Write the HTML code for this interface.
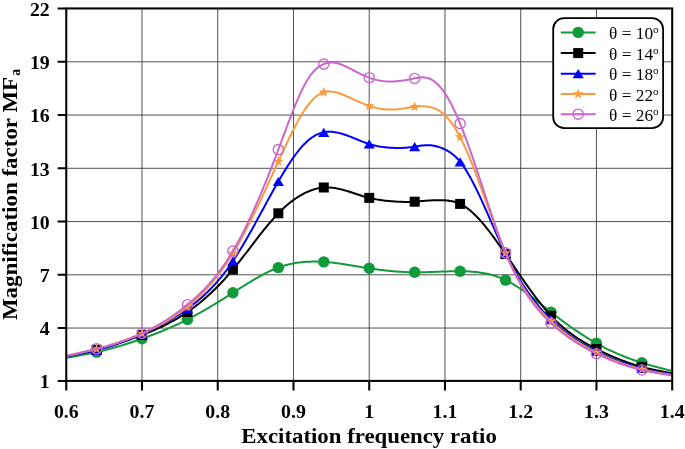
<!DOCTYPE html>
<html><head><meta charset="utf-8"><title>chart</title>
<style>html,body{margin:0;padding:0;background:#fff}body{width:685px;height:449px;overflow:hidden;font-family:"Liberation Sans",sans-serif}</style>
</head><body>
<svg width="685" height="449" viewBox="0 0 685 449" style="display:block;will-change:transform;transform:translateZ(0)">
<path d="M141.99 8.45 V380.9 M217.74 8.45 V380.9 M293.48 8.45 V380.9 M369.23 8.45 V380.9 M444.97 8.45 V380.9 M520.71 8.45 V380.9 M596.46 8.45 V380.9 M66.25 328.05 H672.2 M66.25 274.80 H672.2 M66.25 221.55 H672.2 M66.25 168.30 H672.2 M66.25 115.05 H672.2 M66.25 61.80 H672.2" stroke="#484848" stroke-width="0.95" fill="none"/>
<clipPath id="c"><rect x="66.25" y="8.45" width="605.95" height="372.45"/></clipPath>
<path d="M66.25 357.70 L67.77 357.45 L69.29 357.20 L70.81 356.94 L72.32 356.69 L73.84 356.43 L75.36 356.17 L76.88 355.91 L78.40 355.65 L79.92 355.38 L81.44 355.11 L82.96 354.83 L84.47 354.55 L85.99 354.26 L87.51 353.97 L89.03 353.68 L90.55 353.37 L92.07 353.06 L93.59 352.74 L95.10 352.42 L96.62 352.08 L98.14 351.74 L99.66 351.39 L101.18 351.03 L102.70 350.66 L104.22 350.29 L105.74 349.90 L107.25 349.51 L108.77 349.11 L110.29 348.71 L111.81 348.29 L113.33 347.87 L114.85 347.44 L116.37 347.01 L117.88 346.56 L119.40 346.11 L120.92 345.66 L122.44 345.19 L123.96 344.72 L125.48 344.25 L127.00 343.77 L128.52 343.28 L130.03 342.79 L131.55 342.29 L133.07 341.78 L134.59 341.27 L136.11 340.75 L137.63 340.23 L139.15 339.70 L140.66 339.17 L142.18 338.63 L143.70 338.09 L145.22 337.54 L146.74 336.99 L148.26 336.43 L149.78 335.87 L151.30 335.30 L152.81 334.72 L154.33 334.14 L155.85 333.55 L157.37 332.96 L158.89 332.35 L160.41 331.75 L161.93 331.13 L163.44 330.51 L164.96 329.87 L166.48 329.23 L168.00 328.59 L169.52 327.93 L171.04 327.27 L172.56 326.59 L174.08 325.91 L175.59 325.22 L177.11 324.52 L178.63 323.81 L180.15 323.09 L181.67 322.36 L183.19 321.62 L184.71 320.88 L186.23 320.12 L187.74 319.35 L189.26 318.56 L190.78 317.77 L192.30 316.97 L193.82 316.16 L195.34 315.34 L196.86 314.51 L198.37 313.67 L199.89 312.82 L201.41 311.96 L202.93 311.10 L204.45 310.23 L205.97 309.35 L207.49 308.46 L209.01 307.56 L210.52 306.66 L212.04 305.76 L213.56 304.84 L215.08 303.92 L216.60 303.00 L218.12 302.07 L219.64 301.13 L221.15 300.19 L222.67 299.25 L224.19 298.30 L225.71 297.34 L227.23 296.39 L228.75 295.43 L230.27 294.47 L231.79 293.50 L233.30 292.53 L234.82 291.56 L236.34 290.59 L237.86 289.62 L239.38 288.66 L240.90 287.69 L242.42 286.73 L243.93 285.77 L245.45 284.81 L246.97 283.87 L248.49 282.93 L250.01 282.00 L251.53 281.08 L253.05 280.17 L254.57 279.27 L256.08 278.39 L257.60 277.52 L259.12 276.66 L260.64 275.82 L262.16 275.00 L263.68 274.20 L265.20 273.41 L266.71 272.65 L268.23 271.91 L269.75 271.19 L271.27 270.49 L272.79 269.82 L274.31 269.18 L275.83 268.56 L277.35 267.97 L278.86 267.41 L280.38 266.87 L281.90 266.37 L283.42 265.90 L284.94 265.45 L286.46 265.03 L287.98 264.64 L289.49 264.27 L291.01 263.93 L292.53 263.62 L294.05 263.33 L295.57 263.06 L297.09 262.82 L298.61 262.60 L300.13 262.41 L301.64 262.23 L303.16 262.08 L304.68 261.95 L306.20 261.84 L307.72 261.75 L309.24 261.68 L310.76 261.63 L312.27 261.60 L313.79 261.58 L315.31 261.59 L316.83 261.61 L318.35 261.64 L319.87 261.69 L321.39 261.76 L322.91 261.85 L324.42 261.94 L325.94 262.05 L327.46 262.18 L328.98 262.32 L330.50 262.47 L332.02 262.63 L333.54 262.80 L335.05 262.98 L336.57 263.17 L338.09 263.37 L339.61 263.57 L341.13 263.79 L342.65 264.01 L344.17 264.24 L345.69 264.47 L347.20 264.71 L348.72 264.95 L350.24 265.19 L351.76 265.44 L353.28 265.69 L354.80 265.95 L356.32 266.20 L357.83 266.45 L359.35 266.71 L360.87 266.96 L362.39 267.21 L363.91 267.46 L365.43 267.70 L366.95 267.94 L368.47 268.18 L369.98 268.42 L371.50 268.64 L373.02 268.87 L374.54 269.08 L376.06 269.29 L377.58 269.50 L379.10 269.70 L380.62 269.89 L382.13 270.08 L383.65 270.26 L385.17 270.43 L386.69 270.60 L388.21 270.76 L389.73 270.92 L391.25 271.06 L392.76 271.20 L394.28 271.33 L395.80 271.46 L397.32 271.57 L398.84 271.68 L400.36 271.78 L401.88 271.87 L403.40 271.96 L404.91 272.03 L406.43 272.10 L407.95 272.16 L409.47 272.20 L410.99 272.24 L412.51 272.27 L414.03 272.29 L415.54 272.31 L417.06 272.31 L418.58 272.30 L420.10 272.29 L421.62 272.26 L423.14 272.23 L424.66 272.20 L426.18 272.16 L427.69 272.11 L429.21 272.06 L430.73 272.01 L432.25 271.96 L433.77 271.90 L435.29 271.84 L436.81 271.78 L438.32 271.72 L439.84 271.66 L441.36 271.60 L442.88 271.54 L444.40 271.48 L445.92 271.43 L447.44 271.38 L448.96 271.34 L450.47 271.30 L451.99 271.26 L453.51 271.24 L455.03 271.21 L456.55 271.20 L458.07 271.19 L459.59 271.20 L461.10 271.21 L462.62 271.23 L464.14 271.26 L465.66 271.31 L467.18 271.37 L468.70 271.44 L470.22 271.53 L471.74 271.63 L473.25 271.75 L474.77 271.89 L476.29 272.05 L477.81 272.23 L479.33 272.43 L480.85 272.65 L482.37 272.89 L483.88 273.15 L485.40 273.44 L486.92 273.76 L488.44 274.10 L489.96 274.47 L491.48 274.87 L493.00 275.30 L494.52 275.76 L496.03 276.25 L497.55 276.77 L499.07 277.33 L500.59 277.92 L502.11 278.54 L503.63 279.20 L505.15 279.90 L506.66 280.64 L508.18 281.41 L509.70 282.22 L511.22 283.06 L512.74 283.94 L514.26 284.85 L515.78 285.78 L517.30 286.75 L518.81 287.74 L520.33 288.75 L521.85 289.79 L523.37 290.86 L524.89 291.94 L526.41 293.04 L527.93 294.16 L529.44 295.29 L530.96 296.44 L532.48 297.60 L534.00 298.77 L535.52 299.95 L537.04 301.14 L538.56 302.34 L540.08 303.54 L541.59 304.74 L543.11 305.95 L544.63 307.16 L546.15 308.36 L547.67 309.57 L549.19 310.77 L550.71 311.96 L552.22 313.15 L553.74 314.33 L555.26 315.50 L556.78 316.66 L558.30 317.82 L559.82 318.96 L561.34 320.10 L562.86 321.23 L564.37 322.35 L565.89 323.45 L567.41 324.55 L568.93 325.64 L570.45 326.72 L571.97 327.79 L573.49 328.84 L575.01 329.89 L576.52 330.92 L578.04 331.94 L579.56 332.95 L581.08 333.95 L582.60 334.93 L584.12 335.91 L585.64 336.87 L587.15 337.81 L588.67 338.74 L590.19 339.66 L591.71 340.57 L593.23 341.46 L594.75 342.33 L596.27 343.19 L597.79 344.04 L599.30 344.87 L600.82 345.69 L602.34 346.49 L603.86 347.28 L605.38 348.05 L606.90 348.81 L608.42 349.55 L609.93 350.28 L611.45 351.00 L612.97 351.71 L614.49 352.40 L616.01 353.08 L617.53 353.74 L619.05 354.39 L620.57 355.03 L622.08 355.66 L623.60 356.28 L625.12 356.88 L626.64 357.47 L628.16 358.05 L629.68 358.62 L631.20 359.18 L632.71 359.72 L634.23 360.26 L635.75 360.78 L637.27 361.30 L638.79 361.80 L640.31 362.29 L641.83 362.78 L643.35 363.25 L644.86 363.71 L646.38 364.17 L647.90 364.61 L649.42 365.05 L650.94 365.48 L652.46 365.90 L653.98 366.32 L655.49 366.73 L657.01 367.14 L658.53 367.54 L660.05 367.93 L661.57 368.33 L663.09 368.71 L664.61 369.10 L666.13 369.48 L667.64 369.86 L669.16 370.24 L670.68 370.62 L672.20 371.00" stroke="#119a3a" stroke-width="2" fill="none" stroke-linejoin="round" clip-path="url(#c)"/>
<circle cx="96.55" cy="352.10" r="5.7" fill="#119a3a"/>
<circle cx="141.99" cy="338.70" r="5.7" fill="#119a3a"/>
<circle cx="187.44" cy="319.50" r="5.7" fill="#119a3a"/>
<circle cx="232.89" cy="292.80" r="5.7" fill="#119a3a"/>
<circle cx="278.33" cy="267.60" r="5.7" fill="#119a3a"/>
<circle cx="323.78" cy="261.90" r="5.7" fill="#119a3a"/>
<circle cx="369.23" cy="268.30" r="5.7" fill="#119a3a"/>
<circle cx="414.67" cy="272.30" r="5.7" fill="#119a3a"/>
<circle cx="460.12" cy="271.20" r="5.7" fill="#119a3a"/>
<circle cx="505.56" cy="280.10" r="5.7" fill="#119a3a"/>
<circle cx="551.01" cy="312.20" r="5.7" fill="#119a3a"/>
<circle cx="596.46" cy="343.30" r="5.7" fill="#119a3a"/>
<circle cx="641.90" cy="362.80" r="5.7" fill="#119a3a"/>
<path d="M66.25 356.40 L67.77 356.09 L69.29 355.78 L70.81 355.47 L72.32 355.15 L73.84 354.84 L75.36 354.52 L76.88 354.20 L78.40 353.88 L79.92 353.56 L81.44 353.23 L82.96 352.90 L84.47 352.56 L85.99 352.22 L87.51 351.88 L89.03 351.53 L90.55 351.17 L92.07 350.81 L93.59 350.44 L95.10 350.06 L96.62 349.68 L98.14 349.29 L99.66 348.89 L101.18 348.49 L102.70 348.08 L104.22 347.66 L105.74 347.23 L107.25 346.80 L108.77 346.35 L110.29 345.91 L111.81 345.45 L113.33 344.99 L114.85 344.52 L116.37 344.04 L117.88 343.56 L119.40 343.07 L120.92 342.57 L122.44 342.07 L123.96 341.56 L125.48 341.04 L127.00 340.52 L128.52 339.99 L130.03 339.45 L131.55 338.91 L133.07 338.36 L134.59 337.80 L136.11 337.24 L137.63 336.67 L139.15 336.09 L140.66 335.51 L142.18 334.93 L143.70 334.33 L145.22 333.73 L146.74 333.13 L148.26 332.51 L149.78 331.89 L151.30 331.25 L152.81 330.61 L154.33 329.96 L155.85 329.29 L157.37 328.62 L158.89 327.93 L160.41 327.23 L161.93 326.52 L163.44 325.79 L164.96 325.05 L166.48 324.29 L168.00 323.52 L169.52 322.73 L171.04 321.93 L172.56 321.10 L174.08 320.26 L175.59 319.40 L177.11 318.53 L178.63 317.63 L180.15 316.71 L181.67 315.77 L183.19 314.81 L184.71 313.83 L186.23 312.82 L187.74 311.79 L189.26 310.74 L190.78 309.66 L192.30 308.56 L193.82 307.44 L195.34 306.29 L196.86 305.12 L198.37 303.92 L199.89 302.69 L201.41 301.44 L202.93 300.17 L204.45 298.87 L205.97 297.54 L207.49 296.19 L209.01 294.82 L210.52 293.41 L212.04 291.98 L213.56 290.53 L215.08 289.04 L216.60 287.53 L218.12 286.00 L219.64 284.43 L221.15 282.84 L222.67 281.22 L224.19 279.57 L225.71 277.90 L227.23 276.19 L228.75 274.46 L230.27 272.70 L231.79 270.91 L233.30 269.10 L234.82 267.25 L236.34 265.38 L237.86 263.49 L239.38 261.57 L240.90 259.64 L242.42 257.69 L243.93 255.73 L245.45 253.75 L246.97 251.77 L248.49 249.79 L250.01 247.80 L251.53 245.81 L253.05 243.82 L254.57 241.83 L256.08 239.86 L257.60 237.89 L259.12 235.93 L260.64 233.99 L262.16 232.07 L263.68 230.17 L265.20 228.28 L266.71 226.43 L268.23 224.60 L269.75 222.80 L271.27 221.03 L272.79 219.29 L274.31 217.60 L275.83 215.94 L277.35 214.33 L278.86 212.76 L280.38 211.23 L281.90 209.75 L283.42 208.32 L284.94 206.94 L286.46 205.60 L287.98 204.31 L289.49 203.06 L291.01 201.87 L292.53 200.71 L294.05 199.61 L295.57 198.55 L297.09 197.53 L298.61 196.57 L300.13 195.65 L301.64 194.77 L303.16 193.95 L304.68 193.17 L306.20 192.43 L307.72 191.75 L309.24 191.10 L310.76 190.51 L312.27 189.96 L313.79 189.46 L315.31 189.02 L316.83 188.62 L318.35 188.27 L319.87 187.99 L321.39 187.75 L322.91 187.58 L324.42 187.46 L325.94 187.40 L327.46 187.39 L328.98 187.44 L330.50 187.54 L332.02 187.68 L333.54 187.87 L335.05 188.10 L336.57 188.37 L338.09 188.67 L339.61 189.01 L341.13 189.37 L342.65 189.76 L344.17 190.18 L345.69 190.61 L347.20 191.07 L348.72 191.54 L350.24 192.02 L351.76 192.51 L353.28 193.01 L354.80 193.51 L356.32 194.01 L357.83 194.51 L359.35 195.00 L360.87 195.49 L362.39 195.97 L363.91 196.43 L365.43 196.88 L366.95 197.30 L368.47 197.71 L369.98 198.09 L371.50 198.44 L373.02 198.77 L374.54 199.07 L376.06 199.36 L377.58 199.62 L379.10 199.86 L380.62 200.09 L382.13 200.29 L383.65 200.48 L385.17 200.66 L386.69 200.82 L388.21 200.97 L389.73 201.11 L391.25 201.24 L392.76 201.36 L394.28 201.47 L395.80 201.57 L397.32 201.66 L398.84 201.74 L400.36 201.81 L401.88 201.87 L403.40 201.91 L404.91 201.94 L406.43 201.95 L407.95 201.94 L409.47 201.92 L410.99 201.88 L412.51 201.82 L414.03 201.74 L415.54 201.64 L417.06 201.52 L418.58 201.39 L420.10 201.25 L421.62 201.10 L423.14 200.96 L424.66 200.82 L426.18 200.69 L427.69 200.57 L429.21 200.46 L430.73 200.38 L432.25 200.30 L433.77 200.24 L435.29 200.20 L436.81 200.18 L438.32 200.17 L439.84 200.18 L441.36 200.20 L442.88 200.25 L444.40 200.31 L445.92 200.41 L447.44 200.55 L448.96 200.73 L450.47 200.95 L451.99 201.23 L453.51 201.57 L455.03 201.98 L456.55 202.46 L458.07 203.01 L459.59 203.65 L461.10 204.39 L462.62 205.21 L464.14 206.12 L465.66 207.11 L467.18 208.18 L468.70 209.34 L470.22 210.57 L471.74 211.88 L473.25 213.25 L474.77 214.69 L476.29 216.20 L477.81 217.77 L479.33 219.40 L480.85 221.09 L482.37 222.83 L483.88 224.62 L485.40 226.47 L486.92 228.35 L488.44 230.28 L489.96 232.25 L491.48 234.25 L493.00 236.29 L494.52 238.36 L496.03 240.46 L497.55 242.58 L499.07 244.73 L500.59 246.90 L502.11 249.08 L503.63 251.28 L505.15 253.49 L506.66 255.71 L508.18 257.94 L509.70 260.17 L511.22 262.40 L512.74 264.63 L514.26 266.87 L515.78 269.10 L517.30 271.33 L518.81 273.55 L520.33 275.76 L521.85 277.96 L523.37 280.15 L524.89 282.33 L526.41 284.49 L527.93 286.63 L529.44 288.76 L530.96 290.86 L532.48 292.95 L534.00 295.00 L535.52 297.03 L537.04 299.03 L538.56 301.01 L540.08 302.95 L541.59 304.85 L543.11 306.72 L544.63 308.55 L546.15 310.35 L547.67 312.10 L549.19 313.81 L550.71 315.47 L552.22 317.09 L553.74 318.66 L555.26 320.19 L556.78 321.67 L558.30 323.11 L559.82 324.51 L561.34 325.87 L562.86 327.19 L564.37 328.47 L565.89 329.72 L567.41 330.93 L568.93 332.11 L570.45 333.25 L571.97 334.37 L573.49 335.45 L575.01 336.50 L576.52 337.53 L578.04 338.53 L579.56 339.50 L581.08 340.45 L582.60 341.38 L584.12 342.29 L585.64 343.17 L587.15 344.04 L588.67 344.89 L590.19 345.72 L591.71 346.54 L593.23 347.34 L594.75 348.13 L596.27 348.90 L597.79 349.67 L599.30 350.43 L600.82 351.17 L602.34 351.90 L603.86 352.63 L605.38 353.34 L606.90 354.04 L608.42 354.73 L609.93 355.41 L611.45 356.08 L612.97 356.73 L614.49 357.38 L616.01 358.01 L617.53 358.63 L619.05 359.24 L620.57 359.84 L622.08 360.42 L623.60 361.00 L625.12 361.56 L626.64 362.10 L628.16 362.64 L629.68 363.16 L631.20 363.67 L632.71 364.17 L634.23 364.65 L635.75 365.13 L637.27 365.58 L638.79 366.03 L640.31 366.46 L641.83 366.88 L643.35 367.28 L644.86 367.68 L646.38 368.06 L647.90 368.42 L649.42 368.78 L650.94 369.13 L652.46 369.47 L653.98 369.80 L655.49 370.12 L657.01 370.43 L658.53 370.74 L660.05 371.04 L661.57 371.33 L663.09 371.62 L664.61 371.91 L666.13 372.19 L667.64 372.47 L669.16 372.75 L670.68 373.02 L672.20 373.30" stroke="#000000" stroke-width="2" fill="none" stroke-linejoin="round" clip-path="url(#c)"/>
<rect x="91.55" y="344.70" width="10.0" height="10.0" fill="#000000"/>
<rect x="136.99" y="330.00" width="10.0" height="10.0" fill="#000000"/>
<rect x="182.44" y="307.00" width="10.0" height="10.0" fill="#000000"/>
<rect x="227.89" y="264.60" width="10.0" height="10.0" fill="#000000"/>
<rect x="273.33" y="208.30" width="10.0" height="10.0" fill="#000000"/>
<rect x="318.78" y="182.50" width="10.0" height="10.0" fill="#000000"/>
<rect x="364.23" y="192.90" width="10.0" height="10.0" fill="#000000"/>
<rect x="409.67" y="196.70" width="10.0" height="10.0" fill="#000000"/>
<rect x="455.12" y="198.90" width="10.0" height="10.0" fill="#000000"/>
<rect x="500.56" y="249.10" width="10.0" height="10.0" fill="#000000"/>
<rect x="546.01" y="310.80" width="10.0" height="10.0" fill="#000000"/>
<rect x="591.46" y="344.00" width="10.0" height="10.0" fill="#000000"/>
<rect x="636.90" y="361.90" width="10.0" height="10.0" fill="#000000"/>
<path d="M66.25 356.20 L67.77 355.94 L69.29 355.68 L70.81 355.42 L72.32 355.16 L73.84 354.89 L75.36 354.62 L76.88 354.35 L78.40 354.07 L79.92 353.79 L81.44 353.50 L82.96 353.21 L84.47 352.91 L85.99 352.60 L87.51 352.29 L89.03 351.96 L90.55 351.63 L92.07 351.28 L93.59 350.93 L95.10 350.56 L96.62 350.18 L98.14 349.79 L99.66 349.39 L101.18 348.97 L102.70 348.54 L104.22 348.10 L105.74 347.65 L107.25 347.19 L108.77 346.72 L110.29 346.24 L111.81 345.74 L113.33 345.24 L114.85 344.72 L116.37 344.20 L117.88 343.66 L119.40 343.12 L120.92 342.56 L122.44 342.00 L123.96 341.42 L125.48 340.84 L127.00 340.25 L128.52 339.65 L130.03 339.05 L131.55 338.43 L133.07 337.81 L134.59 337.18 L136.11 336.54 L137.63 335.89 L139.15 335.24 L140.66 334.58 L142.18 333.92 L143.70 333.24 L145.22 332.56 L146.74 331.88 L148.26 331.18 L149.78 330.48 L151.30 329.77 L152.81 329.04 L154.33 328.31 L155.85 327.57 L157.37 326.81 L158.89 326.05 L160.41 325.27 L161.93 324.48 L163.44 323.67 L164.96 322.85 L166.48 322.02 L168.00 321.17 L169.52 320.31 L171.04 319.43 L172.56 318.54 L174.08 317.63 L175.59 316.70 L177.11 315.75 L178.63 314.79 L180.15 313.80 L181.67 312.80 L183.19 311.78 L184.71 310.73 L186.23 309.67 L187.74 308.58 L189.26 307.47 L190.78 306.34 L192.30 305.18 L193.82 304.00 L195.34 302.80 L196.86 301.56 L198.37 300.29 L199.89 299.00 L201.41 297.67 L202.93 296.31 L204.45 294.92 L205.97 293.49 L207.49 292.03 L209.01 290.53 L210.52 288.99 L212.04 287.42 L213.56 285.80 L215.08 284.14 L216.60 282.44 L218.12 280.69 L219.64 278.90 L221.15 277.07 L222.67 275.18 L224.19 273.25 L225.71 271.27 L227.23 269.24 L228.75 267.15 L230.27 265.01 L231.79 262.82 L233.30 260.58 L234.82 258.28 L236.34 255.92 L237.86 253.52 L239.38 251.07 L240.90 248.58 L242.42 246.04 L243.93 243.47 L245.45 240.86 L246.97 238.22 L248.49 235.56 L250.01 232.86 L251.53 230.15 L253.05 227.41 L254.57 224.65 L256.08 221.88 L257.60 219.10 L259.12 216.31 L260.64 213.52 L262.16 210.72 L263.68 207.92 L265.20 205.13 L266.71 202.34 L268.23 199.56 L269.75 196.79 L271.27 194.03 L272.79 191.30 L274.31 188.58 L275.83 185.89 L277.35 183.22 L278.86 180.58 L280.38 177.97 L281.90 175.40 L283.42 172.87 L284.94 170.39 L286.46 167.95 L287.98 165.56 L289.49 163.23 L291.01 160.95 L292.53 158.73 L294.05 156.59 L295.57 154.51 L297.09 152.50 L298.61 150.57 L300.13 148.72 L301.64 146.95 L303.16 145.27 L304.68 143.69 L306.20 142.19 L307.72 140.80 L309.24 139.51 L310.76 138.32 L312.27 137.24 L313.79 136.27 L315.31 135.40 L316.83 134.63 L318.35 133.95 L319.87 133.37 L321.39 132.88 L322.91 132.49 L324.42 132.18 L325.94 131.96 L327.46 131.82 L328.98 131.75 L330.50 131.76 L332.02 131.84 L333.54 131.98 L335.05 132.18 L336.57 132.44 L338.09 132.75 L339.61 133.11 L341.13 133.52 L342.65 133.96 L344.17 134.45 L345.69 134.96 L347.20 135.50 L348.72 136.07 L350.24 136.65 L351.76 137.25 L353.28 137.87 L354.80 138.49 L356.32 139.12 L357.83 139.74 L359.35 140.36 L360.87 140.97 L362.39 141.57 L363.91 142.15 L365.43 142.71 L366.95 143.25 L368.47 143.76 L369.98 144.23 L371.50 144.67 L373.02 145.08 L374.54 145.45 L376.06 145.80 L377.58 146.11 L379.10 146.40 L380.62 146.65 L382.13 146.88 L383.65 147.09 L385.17 147.27 L386.69 147.42 L388.21 147.56 L389.73 147.67 L391.25 147.76 L392.76 147.83 L394.28 147.89 L395.80 147.93 L397.32 147.94 L398.84 147.94 L400.36 147.92 L401.88 147.88 L403.40 147.82 L404.91 147.73 L406.43 147.63 L407.95 147.51 L409.47 147.36 L410.99 147.20 L412.51 147.01 L414.03 146.80 L415.54 146.56 L417.06 146.32 L418.58 146.07 L420.10 145.82 L421.62 145.60 L423.14 145.42 L424.66 145.28 L426.18 145.19 L427.69 145.18 L429.21 145.23 L430.73 145.35 L432.25 145.53 L433.77 145.78 L435.29 146.09 L436.81 146.46 L438.32 146.89 L439.84 147.38 L441.36 147.92 L442.88 148.53 L444.40 149.19 L445.92 149.93 L447.44 150.75 L448.96 151.66 L450.47 152.66 L451.99 153.77 L453.51 154.99 L455.03 156.33 L456.55 157.80 L458.07 159.40 L459.59 161.15 L461.10 163.05 L462.62 165.10 L464.14 167.30 L465.66 169.63 L467.18 172.08 L468.70 174.66 L470.22 177.35 L471.74 180.14 L473.25 183.03 L474.77 186.01 L476.29 189.07 L477.81 192.21 L479.33 195.41 L480.85 198.67 L482.37 201.99 L483.88 205.34 L485.40 208.73 L486.92 212.15 L488.44 215.59 L489.96 219.05 L491.48 222.51 L493.00 225.97 L494.52 229.41 L496.03 232.85 L497.55 236.25 L499.07 239.63 L500.59 242.96 L502.11 246.24 L503.63 249.47 L505.15 252.64 L506.66 255.74 L508.18 258.76 L509.70 261.72 L511.22 264.60 L512.74 267.42 L514.26 270.17 L515.78 272.86 L517.30 275.48 L518.81 278.03 L520.33 280.53 L521.85 282.96 L523.37 285.34 L524.89 287.65 L526.41 289.91 L527.93 292.11 L529.44 294.26 L530.96 296.36 L532.48 298.40 L534.00 300.39 L535.52 302.34 L537.04 304.23 L538.56 306.08 L540.08 307.88 L541.59 309.64 L543.11 311.35 L544.63 313.02 L546.15 314.65 L547.67 316.24 L549.19 317.79 L550.71 319.30 L552.22 320.78 L553.74 322.22 L555.26 323.63 L556.78 325.00 L558.30 326.34 L559.82 327.65 L561.34 328.93 L562.86 330.17 L564.37 331.39 L565.89 332.58 L567.41 333.74 L568.93 334.87 L570.45 335.97 L571.97 337.05 L573.49 338.11 L575.01 339.13 L576.52 340.14 L578.04 341.12 L579.56 342.08 L581.08 343.02 L582.60 343.94 L584.12 344.84 L585.64 345.72 L587.15 346.58 L588.67 347.42 L590.19 348.25 L591.71 349.06 L593.23 349.86 L594.75 350.64 L596.27 351.40 L597.79 352.16 L599.30 352.90 L600.82 353.63 L602.34 354.35 L603.86 355.05 L605.38 355.74 L606.90 356.42 L608.42 357.09 L609.93 357.74 L611.45 358.38 L612.97 359.00 L614.49 359.62 L616.01 360.22 L617.53 360.81 L619.05 361.38 L620.57 361.95 L622.08 362.50 L623.60 363.03 L625.12 363.56 L626.64 364.07 L628.16 364.57 L629.68 365.06 L631.20 365.53 L632.71 365.99 L634.23 366.44 L635.75 366.87 L637.27 367.29 L638.79 367.70 L640.31 368.10 L641.83 368.48 L643.35 368.85 L644.86 369.21 L646.38 369.56 L647.90 369.89 L649.42 370.22 L650.94 370.53 L652.46 370.84 L653.98 371.14 L655.49 371.43 L657.01 371.71 L658.53 371.99 L660.05 372.26 L661.57 372.53 L663.09 372.79 L664.61 373.05 L666.13 373.30 L667.64 373.55 L669.16 373.80 L670.68 374.05 L672.20 374.30" stroke="#0000ff" stroke-width="2" fill="none" stroke-linejoin="round" clip-path="url(#c)"/>
<path d="M96.55 345.60 L102.15 354.80 L90.95 354.80 Z" fill="#0000ff"/>
<path d="M141.99 329.40 L147.59 338.60 L136.39 338.60 Z" fill="#0000ff"/>
<path d="M187.44 304.20 L193.04 313.40 L181.84 313.40 Z" fill="#0000ff"/>
<path d="M232.89 256.60 L238.49 265.80 L227.29 265.80 Z" fill="#0000ff"/>
<path d="M278.33 176.90 L283.93 186.10 L272.73 186.10 Z" fill="#0000ff"/>
<path d="M323.78 127.70 L329.38 136.90 L318.18 136.90 Z" fill="#0000ff"/>
<path d="M369.23 139.40 L374.83 148.60 L363.62 148.60 Z" fill="#0000ff"/>
<path d="M414.67 142.10 L420.27 151.30 L409.07 151.30 Z" fill="#0000ff"/>
<path d="M460.12 157.20 L465.72 166.40 L454.52 166.40 Z" fill="#0000ff"/>
<path d="M505.56 248.90 L511.16 258.10 L499.96 258.10 Z" fill="#0000ff"/>
<path d="M551.01 315.00 L556.61 324.20 L545.41 324.20 Z" fill="#0000ff"/>
<path d="M596.46 346.90 L602.06 356.10 L590.86 356.10 Z" fill="#0000ff"/>
<path d="M641.90 363.90 L647.50 373.10 L636.30 373.10 Z" fill="#0000ff"/>
<path d="M66.25 356.00 L67.77 355.67 L69.29 355.34 L70.81 355.01 L72.32 354.68 L73.84 354.35 L75.36 354.02 L76.88 353.68 L78.40 353.34 L79.92 353.00 L81.44 352.66 L82.96 352.31 L84.47 351.96 L85.99 351.60 L87.51 351.25 L89.03 350.88 L90.55 350.51 L92.07 350.14 L93.59 349.76 L95.10 349.37 L96.62 348.98 L98.14 348.58 L99.66 348.18 L101.18 347.76 L102.70 347.34 L104.22 346.92 L105.74 346.48 L107.25 346.04 L108.77 345.59 L110.29 345.13 L111.81 344.67 L113.33 344.19 L114.85 343.71 L116.37 343.22 L117.88 342.73 L119.40 342.22 L120.92 341.71 L122.44 341.18 L123.96 340.65 L125.48 340.11 L127.00 339.56 L128.52 339.00 L130.03 338.43 L131.55 337.85 L133.07 337.26 L134.59 336.66 L136.11 336.05 L137.63 335.44 L139.15 334.81 L140.66 334.17 L142.18 333.52 L143.70 332.86 L145.22 332.19 L146.74 331.50 L148.26 330.81 L149.78 330.10 L151.30 329.38 L152.81 328.64 L154.33 327.89 L155.85 327.13 L157.37 326.35 L158.89 325.55 L160.41 324.73 L161.93 323.90 L163.44 323.05 L164.96 322.18 L166.48 321.30 L168.00 320.39 L169.52 319.46 L171.04 318.52 L172.56 317.55 L174.08 316.56 L175.59 315.54 L177.11 314.50 L178.63 313.44 L180.15 312.36 L181.67 311.25 L183.19 310.12 L184.71 308.96 L186.23 307.77 L187.74 306.56 L189.26 305.31 L190.78 304.04 L192.30 302.74 L193.82 301.41 L195.34 300.05 L196.86 298.66 L198.37 297.23 L199.89 295.76 L201.41 294.26 L202.93 292.73 L204.45 291.15 L205.97 289.54 L207.49 287.89 L209.01 286.20 L210.52 284.46 L212.04 282.68 L213.56 280.86 L215.08 278.99 L216.60 277.08 L218.12 275.12 L219.64 273.11 L221.15 271.05 L222.67 268.95 L224.19 266.79 L225.71 264.58 L227.23 262.31 L228.75 260.00 L230.27 257.63 L231.79 255.20 L233.30 252.71 L234.82 250.17 L236.34 247.57 L237.86 244.92 L239.38 242.21 L240.90 239.46 L242.42 236.66 L243.93 233.82 L245.45 230.93 L246.97 228.00 L248.49 225.03 L250.01 222.02 L251.53 218.98 L253.05 215.91 L254.57 212.80 L256.08 209.66 L257.60 206.50 L259.12 203.31 L260.64 200.10 L262.16 196.86 L263.68 193.61 L265.20 190.33 L266.71 187.05 L268.23 183.75 L269.75 180.44 L271.27 177.11 L272.79 173.78 L274.31 170.45 L275.83 167.11 L277.35 163.77 L278.86 160.43 L280.38 157.10 L281.90 153.77 L283.42 150.47 L284.94 147.18 L286.46 143.93 L287.98 140.72 L289.49 137.55 L291.01 134.44 L292.53 131.38 L294.05 128.39 L295.57 125.48 L297.09 122.64 L298.61 119.89 L300.13 117.23 L301.64 114.67 L303.16 112.22 L304.68 109.89 L306.20 107.67 L307.72 105.58 L309.24 103.63 L310.76 101.82 L312.27 100.15 L313.79 98.63 L315.31 97.25 L316.83 96.02 L318.35 94.94 L319.87 94.01 L321.39 93.23 L322.91 92.60 L324.42 92.11 L325.94 91.78 L327.46 91.58 L328.98 91.49 L330.50 91.52 L332.02 91.65 L333.54 91.87 L335.05 92.17 L336.57 92.55 L338.09 93.00 L339.61 93.50 L341.13 94.05 L342.65 94.65 L344.17 95.27 L345.69 95.92 L347.20 96.58 L348.72 97.26 L350.24 97.94 L351.76 98.63 L353.28 99.32 L354.80 100.00 L356.32 100.69 L357.83 101.36 L359.35 102.03 L360.87 102.68 L362.39 103.32 L363.91 103.93 L365.43 104.53 L366.95 105.10 L368.47 105.64 L369.98 106.15 L371.50 106.63 L373.02 107.08 L374.54 107.49 L376.06 107.87 L377.58 108.21 L379.10 108.52 L380.62 108.79 L382.13 109.02 L383.65 109.22 L385.17 109.37 L386.69 109.49 L388.21 109.57 L389.73 109.62 L391.25 109.62 L392.76 109.57 L394.28 109.49 L395.80 109.38 L397.32 109.23 L398.84 109.06 L400.36 108.87 L401.88 108.66 L403.40 108.44 L404.91 108.20 L406.43 107.97 L407.95 107.73 L409.47 107.50 L410.99 107.28 L412.51 107.07 L414.03 106.88 L415.54 106.70 L417.06 106.56 L418.58 106.45 L420.10 106.37 L421.62 106.33 L423.14 106.34 L424.66 106.40 L426.18 106.52 L427.69 106.69 L429.21 106.93 L430.73 107.25 L432.25 107.65 L433.77 108.14 L435.29 108.73 L436.81 109.43 L438.32 110.24 L439.84 111.18 L441.36 112.25 L442.88 113.45 L444.40 114.79 L445.92 116.27 L447.44 117.90 L448.96 119.66 L450.47 121.57 L451.99 123.63 L453.51 125.82 L455.03 128.17 L456.55 130.66 L458.07 133.30 L459.59 136.09 L461.10 139.03 L462.62 142.11 L464.14 145.33 L465.66 148.68 L467.18 152.15 L468.70 155.72 L470.22 159.40 L471.74 163.17 L473.25 167.03 L474.77 170.96 L476.29 174.96 L477.81 179.01 L479.33 183.12 L480.85 187.26 L482.37 191.44 L483.88 195.64 L485.40 199.85 L486.92 204.08 L488.44 208.29 L489.96 212.50 L491.48 216.69 L493.00 220.85 L494.52 224.97 L496.03 229.04 L497.55 233.06 L499.07 237.01 L500.59 240.90 L502.11 244.70 L503.63 248.41 L505.15 252.02 L506.66 255.53 L508.18 258.93 L509.70 262.23 L511.22 265.42 L512.74 268.51 L514.26 271.51 L515.78 274.41 L517.30 277.22 L518.81 279.94 L520.33 282.57 L521.85 285.12 L523.37 287.58 L524.89 289.97 L526.41 292.28 L527.93 294.52 L529.44 296.69 L530.96 298.79 L532.48 300.82 L534.00 302.79 L535.52 304.70 L537.04 306.55 L538.56 308.34 L540.08 310.08 L541.59 311.77 L543.11 313.42 L544.63 315.02 L546.15 316.57 L547.67 318.09 L549.19 319.57 L550.71 321.01 L552.22 322.43 L553.74 323.81 L555.26 325.16 L556.78 326.48 L558.30 327.77 L559.82 329.04 L561.34 330.27 L562.86 331.48 L564.37 332.66 L565.89 333.82 L567.41 334.95 L568.93 336.06 L570.45 337.14 L571.97 338.19 L573.49 339.23 L575.01 340.24 L576.52 341.23 L578.04 342.20 L579.56 343.15 L581.08 344.08 L582.60 344.99 L584.12 345.88 L585.64 346.75 L587.15 347.61 L588.67 348.44 L590.19 349.27 L591.71 350.07 L593.23 350.87 L594.75 351.64 L596.27 352.41 L597.79 353.16 L599.30 353.89 L600.82 354.62 L602.34 355.33 L603.86 356.03 L605.38 356.71 L606.90 357.38 L608.42 358.04 L609.93 358.69 L611.45 359.32 L612.97 359.94 L614.49 360.55 L616.01 361.14 L617.53 361.72 L619.05 362.29 L620.57 362.85 L622.08 363.39 L623.60 363.92 L625.12 364.44 L626.64 364.94 L628.16 365.43 L629.68 365.91 L631.20 366.38 L632.71 366.83 L634.23 367.27 L635.75 367.70 L637.27 368.11 L638.79 368.52 L640.31 368.90 L641.83 369.28 L643.35 369.65 L644.86 370.00 L646.38 370.34 L647.90 370.67 L649.42 370.99 L650.94 371.30 L652.46 371.60 L653.98 371.89 L655.49 372.18 L657.01 372.46 L658.53 372.73 L660.05 373.00 L661.57 373.26 L663.09 373.52 L664.61 373.77 L666.13 374.02 L667.64 374.27 L669.16 374.51 L670.68 374.76 L672.20 375.00" stroke="#fb9a3c" stroke-width="2" fill="none" stroke-linejoin="round" clip-path="url(#c)"/>
<polygon points="96.55,343.40 97.84,347.22 101.87,347.27 98.64,349.68 99.84,353.53 96.55,351.20 93.26,353.53 94.46,349.68 91.22,347.27 95.25,347.22" fill="#fb9a3c"/>
<polygon points="141.99,328.00 143.29,331.82 147.32,331.87 144.09,334.28 145.29,338.13 141.99,335.80 138.70,338.13 139.90,334.28 136.67,331.87 140.70,331.82" fill="#fb9a3c"/>
<polygon points="187.44,301.20 188.73,305.02 192.77,305.07 189.53,307.48 190.73,311.33 187.44,309.00 184.15,311.33 185.35,307.48 182.11,305.07 186.15,305.02" fill="#fb9a3c"/>
<polygon points="232.89,247.80 234.18,251.62 238.21,251.67 234.98,254.08 236.18,257.93 232.89,255.60 229.59,257.93 230.79,254.08 227.56,251.67 231.59,251.62" fill="#fb9a3c"/>
<polygon points="278.33,156.00 279.63,159.82 283.66,159.87 280.42,162.28 281.62,166.13 278.33,163.80 275.04,166.13 276.24,162.28 273.01,159.87 277.04,159.82" fill="#fb9a3c"/>
<polygon points="323.78,86.70 325.07,90.52 329.10,90.57 325.87,92.98 327.07,96.83 323.78,94.50 320.49,96.83 321.69,92.98 318.45,90.57 322.49,90.52" fill="#fb9a3c"/>
<polygon points="369.23,100.30 370.52,104.12 374.55,104.17 371.32,106.58 372.52,110.43 369.23,108.10 365.93,110.43 367.13,106.58 363.90,104.17 367.93,104.12" fill="#fb9a3c"/>
<polygon points="414.67,101.20 415.96,105.02 420.00,105.07 416.76,107.48 417.96,111.33 414.67,109.00 411.38,111.33 412.58,107.48 409.35,105.07 413.38,105.02" fill="#fb9a3c"/>
<polygon points="460.12,131.50 461.41,135.32 465.44,135.37 462.21,137.78 463.41,141.63 460.12,139.30 456.83,141.63 458.03,137.78 454.79,135.37 458.82,135.32" fill="#fb9a3c"/>
<polygon points="505.56,247.40 506.86,251.22 510.89,251.27 507.66,253.68 508.86,257.53 505.56,255.20 502.27,257.53 503.47,253.68 500.24,251.27 504.27,251.22" fill="#fb9a3c"/>
<polygon points="551.01,315.70 552.30,319.52 556.34,319.57 553.10,321.98 554.30,325.83 551.01,323.50 547.72,325.83 548.92,321.98 545.68,319.57 549.72,319.52" fill="#fb9a3c"/>
<polygon points="596.46,346.90 597.75,350.72 601.78,350.77 598.55,353.18 599.75,357.03 596.46,354.70 593.16,357.03 594.36,353.18 591.13,350.77 595.16,350.72" fill="#fb9a3c"/>
<polygon points="641.90,363.70 643.20,367.52 647.23,367.57 643.99,369.98 645.19,373.83 641.90,371.50 638.61,373.83 639.81,369.98 636.58,367.57 640.61,367.52" fill="#fb9a3c"/>
<path d="M66.25 355.80 L67.77 355.47 L69.29 355.13 L70.81 354.80 L72.32 354.47 L73.84 354.13 L75.36 353.80 L76.88 353.46 L78.40 353.12 L79.92 352.78 L81.44 352.43 L82.96 352.08 L84.47 351.73 L85.99 351.38 L87.51 351.02 L89.03 350.66 L90.55 350.29 L92.07 349.92 L93.59 349.55 L95.10 349.17 L96.62 348.78 L98.14 348.39 L99.66 347.99 L101.18 347.59 L102.70 347.18 L104.22 346.76 L105.74 346.34 L107.25 345.91 L108.77 345.47 L110.29 345.02 L111.81 344.57 L113.33 344.10 L114.85 343.63 L116.37 343.15 L117.88 342.65 L119.40 342.15 L120.92 341.64 L122.44 341.12 L123.96 340.58 L125.48 340.04 L127.00 339.48 L128.52 338.91 L130.03 338.33 L131.55 337.74 L133.07 337.13 L134.59 336.51 L136.11 335.88 L137.63 335.24 L139.15 334.58 L140.66 333.90 L142.18 333.21 L143.70 332.51 L145.22 331.79 L146.74 331.06 L148.26 330.31 L149.78 329.54 L151.30 328.76 L152.81 327.96 L154.33 327.14 L155.85 326.31 L157.37 325.46 L158.89 324.60 L160.41 323.71 L161.93 322.81 L163.44 321.89 L164.96 320.96 L166.48 320.00 L168.00 319.03 L169.52 318.03 L171.04 317.02 L172.56 315.99 L174.08 314.94 L175.59 313.86 L177.11 312.77 L178.63 311.66 L180.15 310.53 L181.67 309.38 L183.19 308.20 L184.71 307.01 L186.23 305.79 L187.74 304.55 L189.26 303.29 L190.78 302.01 L192.30 300.70 L193.82 299.36 L195.34 297.99 L196.86 296.60 L198.37 295.18 L199.89 293.72 L201.41 292.23 L202.93 290.70 L204.45 289.13 L205.97 287.53 L207.49 285.89 L209.01 284.20 L210.52 282.48 L212.04 280.70 L213.56 278.89 L215.08 277.02 L216.60 275.11 L218.12 273.14 L219.64 271.12 L221.15 269.05 L222.67 266.93 L224.19 264.75 L225.71 262.51 L227.23 260.21 L228.75 257.85 L230.27 255.43 L231.79 252.94 L233.30 250.39 L234.82 247.78 L236.34 245.09 L237.86 242.35 L239.38 239.54 L240.90 236.67 L242.42 233.74 L243.93 230.75 L245.45 227.70 L246.97 224.60 L248.49 221.44 L250.01 218.22 L251.53 214.95 L253.05 211.63 L254.57 208.25 L256.08 204.83 L257.60 201.36 L259.12 197.83 L260.64 194.27 L262.16 190.65 L263.68 186.99 L265.20 183.29 L266.71 179.54 L268.23 175.76 L269.75 171.93 L271.27 168.06 L272.79 164.16 L274.31 160.22 L275.83 156.24 L277.35 152.23 L278.86 148.18 L280.38 144.11 L281.90 140.02 L283.42 135.92 L284.94 131.83 L286.46 127.76 L287.98 123.72 L289.49 119.73 L291.01 115.79 L292.53 111.91 L294.05 108.12 L295.57 104.41 L297.09 100.81 L298.61 97.32 L300.13 93.96 L301.64 90.73 L303.16 87.66 L304.68 84.75 L306.20 82.01 L307.72 79.46 L309.24 77.10 L310.76 74.96 L312.27 73.02 L313.79 71.29 L315.31 69.74 L316.83 68.37 L318.35 67.17 L319.87 66.13 L321.39 65.24 L322.91 64.48 L324.42 63.85 L325.94 63.33 L327.46 62.94 L328.98 62.67 L330.50 62.53 L332.02 62.51 L333.54 62.61 L335.05 62.82 L336.57 63.13 L338.09 63.53 L339.61 64.01 L341.13 64.56 L342.65 65.16 L344.17 65.82 L345.69 66.51 L347.20 67.22 L348.72 67.96 L350.24 68.72 L351.76 69.48 L353.28 70.26 L354.80 71.03 L356.32 71.81 L357.83 72.58 L359.35 73.34 L360.87 74.08 L362.39 74.80 L363.91 75.50 L365.43 76.17 L366.95 76.81 L368.47 77.41 L369.98 77.97 L371.50 78.49 L373.02 78.97 L374.54 79.40 L376.06 79.79 L377.58 80.14 L379.10 80.44 L380.62 80.71 L382.13 80.94 L383.65 81.13 L385.17 81.28 L386.69 81.39 L388.21 81.47 L389.73 81.51 L391.25 81.51 L392.76 81.48 L394.28 81.41 L395.80 81.31 L397.32 81.19 L398.84 81.03 L400.36 80.85 L401.88 80.65 L403.40 80.43 L404.91 80.19 L406.43 79.94 L407.95 79.67 L409.47 79.40 L410.99 79.11 L412.51 78.82 L414.03 78.53 L415.54 78.23 L417.06 77.95 L418.58 77.70 L420.10 77.50 L421.62 77.37 L423.14 77.34 L424.66 77.42 L426.18 77.63 L427.69 77.99 L429.21 78.51 L430.73 79.18 L432.25 80.00 L433.77 80.99 L435.29 82.14 L436.81 83.45 L438.32 84.92 L439.84 86.57 L441.36 88.38 L442.88 90.36 L444.40 92.51 L445.92 94.82 L447.44 97.29 L448.96 99.92 L450.47 102.69 L451.99 105.62 L453.51 108.69 L455.03 111.89 L456.55 115.23 L458.07 118.71 L459.59 122.31 L461.10 126.03 L462.62 129.88 L464.14 133.83 L465.66 137.88 L467.18 142.02 L468.70 146.25 L470.22 150.55 L471.74 154.93 L473.25 159.36 L474.77 163.84 L476.29 168.37 L477.81 172.93 L479.33 177.52 L480.85 182.13 L482.37 186.76 L483.88 191.38 L485.40 196.00 L486.92 200.60 L488.44 205.19 L489.96 209.74 L491.48 214.26 L493.00 218.73 L494.52 223.15 L496.03 227.50 L497.55 231.79 L499.07 235.99 L500.59 240.11 L502.11 244.14 L503.63 248.06 L505.15 251.87 L506.66 255.57 L508.18 259.14 L509.70 262.60 L511.22 265.94 L512.74 269.17 L514.26 272.30 L515.78 275.32 L517.30 278.24 L518.81 281.07 L520.33 283.79 L521.85 286.43 L523.37 288.97 L524.89 291.43 L526.41 293.80 L527.93 296.10 L529.44 298.31 L530.96 300.45 L532.48 302.52 L534.00 304.52 L535.52 306.46 L537.04 308.33 L538.56 310.14 L540.08 311.89 L541.59 313.59 L543.11 315.24 L544.63 316.84 L546.15 318.39 L547.67 319.91 L549.19 321.38 L550.71 322.82 L552.22 324.22 L553.74 325.59 L555.26 326.93 L556.78 328.24 L558.30 329.52 L559.82 330.76 L561.34 331.98 L562.86 333.18 L564.37 334.34 L565.89 335.48 L567.41 336.59 L568.93 337.67 L570.45 338.73 L571.97 339.77 L573.49 340.78 L575.01 341.77 L576.52 342.74 L578.04 343.68 L579.56 344.61 L581.08 345.51 L582.60 346.40 L584.12 347.27 L585.64 348.11 L587.15 348.95 L588.67 349.76 L590.19 350.56 L591.71 351.34 L593.23 352.11 L594.75 352.87 L596.27 353.61 L597.79 354.34 L599.30 355.05 L600.82 355.76 L602.34 356.45 L603.86 357.13 L605.38 357.79 L606.90 358.44 L608.42 359.09 L609.93 359.71 L611.45 360.33 L612.97 360.93 L614.49 361.52 L616.01 362.10 L617.53 362.66 L619.05 363.22 L620.57 363.76 L622.08 364.28 L623.60 364.80 L625.12 365.30 L626.64 365.79 L628.16 366.27 L629.68 366.73 L631.20 367.18 L632.71 367.62 L634.23 368.04 L635.75 368.46 L637.27 368.86 L638.79 369.25 L640.31 369.62 L641.83 369.98 L643.35 370.33 L644.86 370.67 L646.38 371.00 L647.90 371.31 L649.42 371.62 L650.94 371.91 L652.46 372.20 L653.98 372.48 L655.49 372.75 L657.01 373.01 L658.53 373.27 L660.05 373.52 L661.57 373.76 L663.09 374.01 L664.61 374.24 L666.13 374.48 L667.64 374.71 L669.16 374.94 L670.68 375.17 L672.20 375.40" stroke="#c966c9" stroke-width="2" fill="none" stroke-linejoin="round" clip-path="url(#c)"/>
<circle cx="96.55" cy="348.80" r="5.1" fill="none" stroke="#c966c9" stroke-width="1.35"/>
<circle cx="141.99" cy="333.30" r="5.1" fill="none" stroke="#c966c9" stroke-width="1.35"/>
<circle cx="187.44" cy="304.80" r="5.1" fill="none" stroke="#c966c9" stroke-width="1.35"/>
<circle cx="232.89" cy="251.10" r="5.1" fill="none" stroke="#c966c9" stroke-width="1.35"/>
<circle cx="278.33" cy="149.60" r="5.1" fill="none" stroke="#c966c9" stroke-width="1.35"/>
<circle cx="323.78" cy="64.10" r="5.1" fill="none" stroke="#c966c9" stroke-width="1.35"/>
<circle cx="369.23" cy="77.70" r="5.1" fill="none" stroke="#c966c9" stroke-width="1.35"/>
<circle cx="414.67" cy="78.40" r="5.1" fill="none" stroke="#c966c9" stroke-width="1.35"/>
<circle cx="460.12" cy="123.60" r="5.1" fill="none" stroke="#c966c9" stroke-width="1.35"/>
<circle cx="505.56" cy="252.90" r="5.1" fill="none" stroke="#c966c9" stroke-width="1.35"/>
<circle cx="551.01" cy="323.10" r="5.1" fill="none" stroke="#c966c9" stroke-width="1.35"/>
<circle cx="596.46" cy="353.70" r="5.1" fill="none" stroke="#c966c9" stroke-width="1.35"/>
<circle cx="641.90" cy="370.00" r="5.1" fill="none" stroke="#c966c9" stroke-width="1.35"/>
<rect x="66.25" y="8.45" width="605.95" height="372.45" fill="none" stroke="#000" stroke-width="2.05"/>
<path d="M66.25 380.9 V390.5 M141.99 380.9 V390.5 M217.74 380.9 V390.5 M293.48 380.9 V390.5 M369.23 380.9 V390.5 M444.97 380.9 V390.5 M520.71 380.9 V390.5 M596.46 380.9 V390.5 M672.20 380.9 V390.5 M66.25 380.90 H57.65 M66.25 328.05 H57.65 M66.25 274.80 H57.65 M66.25 221.55 H57.65 M66.25 168.30 H57.65 M66.25 115.05 H57.65 M66.25 61.80 H57.65 M66.25 8.45 H57.65" stroke="#000" stroke-width="2.05" fill="none"/>
<g font-family="Liberation Serif, serif" font-weight="bold" font-size="19.8" fill="#000">
<text x="66.25" y="417.6" text-anchor="middle">0.6</text>
<text x="141.99" y="417.6" text-anchor="middle">0.7</text>
<text x="217.74" y="417.6" text-anchor="middle">0.8</text>
<text x="293.48" y="417.6" text-anchor="middle">0.9</text>
<text x="369.23" y="417.6" text-anchor="middle">1</text>
<text x="444.97" y="417.6" text-anchor="middle">1.1</text>
<text x="520.71" y="417.6" text-anchor="middle">1.2</text>
<text x="596.46" y="417.6" text-anchor="middle">1.3</text>
<text x="672.20" y="417.6" text-anchor="middle">1.4</text>
<text x="49.7" y="388.30" text-anchor="end">1</text>
<text x="49.7" y="335.45" text-anchor="end">4</text>
<text x="49.7" y="282.20" text-anchor="end">7</text>
<text x="49.7" y="228.95" text-anchor="end">10</text>
<text x="49.7" y="175.70" text-anchor="end">13</text>
<text x="49.7" y="122.45" text-anchor="end">16</text>
<text x="49.7" y="69.20" text-anchor="end">19</text>
<text x="49.7" y="15.85" text-anchor="end">22</text>
</g>
<g font-family="Liberation Serif, serif" font-weight="bold" font-size="21.8" fill="#000">
<text x="241.35" y="442.5" textLength="255.5" lengthAdjust="spacingAndGlyphs">Excitation frequency ratio</text>
<text transform="translate(16.6 320.1) rotate(-90)" textLength="243.2" lengthAdjust="spacingAndGlyphs">Magnification factor MF</text>
<text transform="translate(20.4 75.8) rotate(-90)" font-size="13.6">a</text>
</g>
<rect x="553.2" y="18.2" width="109.9" height="110.0" rx="11" ry="11" fill="#fff" stroke="#000" stroke-width="1.8"/>
<path d="M560.8 32.4 H595.6" stroke="#119a3a" stroke-width="2"/>
<circle cx="578.20" cy="32.40" r="5.7" fill="#119a3a"/>
<text x="609" y="38.80" font-family="Liberation Serif, serif" font-size="17.33" fill="#000">θ = 10<tspan font-size="11.2" dy="-5.8">o</tspan></text>
<path d="M560.8 53.1 H595.6" stroke="#000000" stroke-width="2"/>
<rect x="573.20" y="48.10" width="10.0" height="10.0" fill="#000000"/>
<text x="609" y="59.50" font-family="Liberation Serif, serif" font-size="17.33" fill="#000">θ = 14<tspan font-size="11.2" dy="-5.8">o</tspan></text>
<path d="M560.8 73.7 H595.6" stroke="#0000ff" stroke-width="2"/>
<path d="M578.20 69.10 L583.80 78.30 L572.60 78.30 Z" fill="#0000ff"/>
<text x="609" y="80.10" font-family="Liberation Serif, serif" font-size="17.33" fill="#000">θ = 18<tspan font-size="11.2" dy="-5.8">o</tspan></text>
<path d="M560.8 94.1 H595.6" stroke="#fb9a3c" stroke-width="2"/>
<polygon points="578.20,88.50 579.49,92.32 583.53,92.37 580.29,94.78 581.49,98.63 578.20,96.30 574.91,98.63 576.11,94.78 572.87,92.37 576.91,92.32" fill="#fb9a3c"/>
<text x="609" y="100.50" font-family="Liberation Serif, serif" font-size="17.33" fill="#000">θ = 22<tspan font-size="11.2" dy="-5.8">o</tspan></text>
<path d="M560.8 114.2 H595.6" stroke="#c966c9" stroke-width="2"/>
<circle cx="578.20" cy="114.20" r="5.1" fill="none" stroke="#c966c9" stroke-width="1.35"/>
<text x="609" y="120.60" font-family="Liberation Serif, serif" font-size="17.33" fill="#000">θ = 26<tspan font-size="11.2" dy="-5.8">o</tspan></text>
</svg>
</body></html>
